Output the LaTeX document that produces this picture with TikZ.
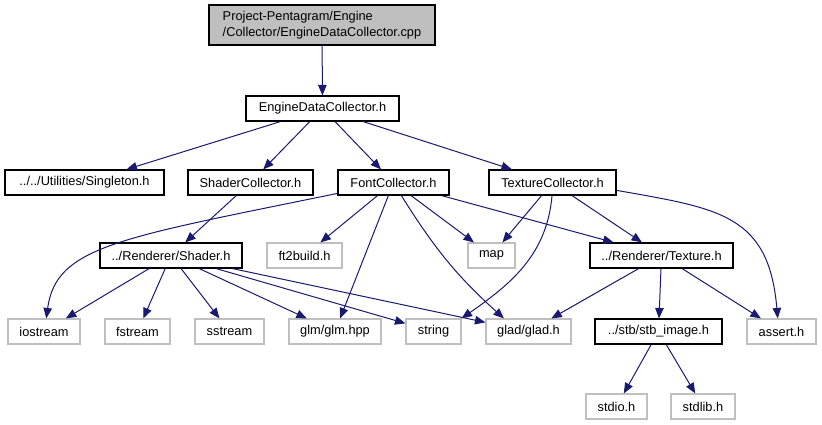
\documentclass[tikz,border=0pt]{standalone}
\usepackage{fontspec}
\setmainfont{Liberation Sans}
\usepackage{xcolor}
\usepackage{tikz}
\usetikzlibrary{arrows.meta}
\definecolor{linkblue}{HTML}{191970}
\definecolor{sysgrey}{HTML}{BFBFBF}
\definecolor{srcgrey}{HTML}{BFBFBF}
\tikzset{
  hdrnode/.style={draw=black,fill=white,line width=1.1pt,minimum height=25pt,inner sep=0pt,font=\fontsize{12.8}{16}\selectfont},
  sysnode/.style={hdrnode,draw=sysgrey},
  srcnode/.style={hdrnode,fill=srcgrey,minimum height=40pt,align=left},
  incl/.style={-{Triangle[length=10.5pt,width=8.5pt]},draw=linkblue,line width=1pt},
}

\begin{document}
\begin{tikzpicture}[x=1pt,y=1pt]
  \useasboundingbox (0,0) rectangle (822,-425);
  \node[srcnode,minimum width=226] (nSrc) at (322,-25) {Project-Pentagram/Engine\\/Collector/EngineDataCollector.cpp};
  \node[hdrnode,minimum width=153] (nEDC) at (322.5,-108.5) {EngineDataCollector.h};
  \node[hdrnode,minimum width=159] (nSingle) at (84.5,-182.5) {../../Utilities/Singleton.h};
  \node[hdrnode,minimum width=125] (nShCol) at (250.5,-182.5) {ShaderCollector.h};
  \node[hdrnode,minimum width=111] (nFnCol) at (393.5,-182.5) {FontCollector.h};
  \node[hdrnode,minimum width=127] (nTxCol) at (552.5,-182.5) {TextureCollector.h};
  \node[hdrnode,minimum width=142] (nShader) at (171,-255.5) {../Renderer/Shader.h};
  \node[sysnode,minimum width=75] (nFt) at (304.5,-255.5) {ft2build.h};
  \node[sysnode,minimum width=47] (nMap) at (491.5,-255.5) {map};
  \node[hdrnode,minimum width=143] (nTexture) at (661.5,-255.5) {../Renderer/Texture.h};
  \node[sysnode,minimum width=72] (nIos) at (44,-331.5) {iostream};
  \node[sysnode,minimum width=65] (nFs) at (137.5,-331.5) {fstream};
  \node[sysnode,minimum width=69] (nSs) at (229.5,-331.5) {sstream};
  \node[sysnode,minimum width=92] (nGlm) at (335,-331.5) {glm/glm.hpp};
  \node[sysnode,minimum width=55] (nStr) at (433.5,-331.5) {string};
  \node[sysnode,minimum width=85] (nGlad) at (528.5,-331.5) {glad/glad.h};
  \node[hdrnode,minimum width=127] (nStb) at (658.5,-331.5) {../stb/stb\_image.h};
  \node[sysnode,minimum width=69] (nAssert) at (781.5,-331.5) {assert.h};
  \node[sysnode,minimum width=61] (nStdio) at (616.5,-406.5) {stdio.h};
  \node[sysnode,minimum width=64] (nStdlib) at (703,-406.5) {stdlib.h};
  % include edges
  \draw[incl] (nSrc) -- (nEDC);
  \draw[incl] (nEDC) -- (nSingle);
  \draw[incl] (nEDC) -- (nShCol);
  \draw[incl] (nEDC) -- (nFnCol);
  \draw[incl] (nEDC) -- (nTxCol);
  \draw[incl] (nShCol) -- (nShader);
  \draw[incl] (nFnCol.191) .. controls (120,-238) and (56,-246) .. (nIos.80);
  \draw[incl] (nFnCol) -- (nFt);
  \draw[incl] (nFnCol) -- (nGlm);
  \draw[incl] (nFnCol) -- (nMap);
  \draw[incl] (nFnCol.-59) to[out=-58,in=138] (nGlad.152);
  \draw[incl] (nFnCol) -- (nTexture);
  \draw[incl] (nTxCol) -- (nMap);
  \draw[incl] (nTxCol.-92) to[out=-95,in=35] (nStr.north east);
  \draw[incl] (nTxCol) -- (nTexture);
  \draw[incl] (nTxCol.-7) to[out=-10,in=95,looseness=1.3] (nAssert.106);
  \draw[incl] (nShader) -- (nIos);
  \draw[incl] (nShader) -- (nFs);
  \draw[incl] (nShader) -- (nSs);
  \draw[incl] (nShader) -- (nGlm);
  \draw[incl] (nShader) -- (nStr);
  \draw[incl] (nShader) -- (nGlad);
  \draw[incl] (nTexture) -- (nGlad);
  \draw[incl] (nTexture) -- (nStb);
  \draw[incl] (nTexture) -- (nAssert);
  \draw[incl] (nStb) -- (nStdio);
  \draw[incl] (nStb) -- (nStdlib);
\end{tikzpicture}
\end{document}
